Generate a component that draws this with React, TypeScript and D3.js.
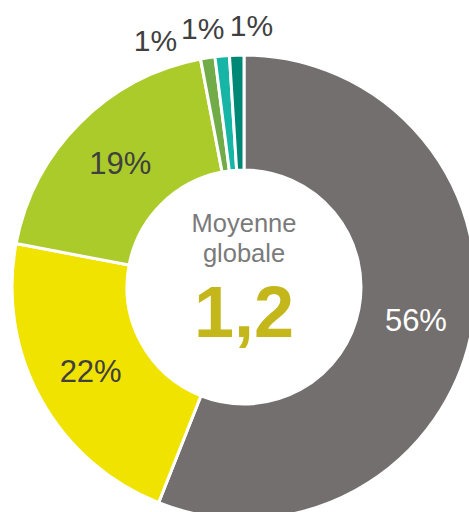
import React, { useEffect, useRef } from "react";
import * as d3 from "d3";

const categories = ["A", "B", "C", "D", "E", "F"];
const values = [56, 22, 19, 1, 1, 1];
const colors = ["#736F6E", "#F0E300", "#ABCB2B", "#72AC48", "#17B5A5", "#008877"];
const labelColors = ["#FFFFFF", "#404040", "#404040", "#404040", "#404040", "#404040"];
const centerTitle = ["Moyenne", "globale"];
const centerValue = "1,2";

const App: React.FC = () => {
  const ref = useRef<SVGSVGElement | null>(null);
  const width = 469;
  const height = 512;

  useEffect(() => {
    const svg = d3.select(ref.current);
    svg.selectAll("*").remove();

    const cx = 244;
    const cy = 287;
    const outer = 232;
    const inner = 117;
    const font = "'Liberation Sans', Arial, sans-serif";

    const g = svg.append("g").attr("transform", `translate(${cx}, ${cy})`);

    const data = categories.map((c, i) => ({ name: c, value: values[i], i }));
    type D = (typeof data)[number];
    const pie = d3.pie<D>().sort(null).value(d => d.value);
    const arcs = pie(data);

    const arc = d3.arc<d3.PieArcDatum<D>>().innerRadius(inner).outerRadius(outer);

    g.selectAll("path")
      .data(arcs)
      .enter()
      .append("path")
      .attr("d", arc)
      .attr("fill", d => colors[d.data.i])
      .attr("stroke", "#fff")
      .attr("stroke-width", 3);

    // big slices: label inside the ring
    const mid = d3.arc<d3.PieArcDatum<D>>().innerRadius(175).outerRadius(175);
    const big = arcs.filter(d => d.data.value >= 5);
    g.selectAll("text.big")
      .data(big)
      .enter()
      .append("text")
      .attr("class", "big")
      .attr("transform", d => `translate(${mid.centroid(d)})`)
      .attr("text-anchor", "middle")
      .attr("dy", "0.36em")
      .attr("font-family", font)
      .attr("font-size", 31)
      .attr("fill", d => labelColors[d.data.i])
      .text(d => `${d.data.value}%`);

    // small slices: labels spread above the ring
    const small = arcs.filter(d => d.data.value < 5);
    const last = small[small.length - 1];
    const lastMid = (last.startAngle + last.endAngle) / 2;
    const step = (10.7 * Math.PI) / 180;
    const r = 262;
    g.selectAll("text.small")
      .data(small)
      .enter()
      .append("text")
      .attr("class", "small")
      .attr("x", (d, j) => r * Math.sin(lastMid + 0.06 - (small.length - 1 - j) * step))
      .attr("y", (d, j) => -r * Math.cos(lastMid + 0.06 - (small.length - 1 - j) * step))
      .attr("text-anchor", "middle")
      .attr("dy", "0.36em")
      .attr("font-family", font)
      .attr("font-size", 30)
      .attr("fill", d => labelColors[d.data.i])
      .text(d => `${d.data.value}%`);

    // center text
    centerTitle.forEach((t, k) => {
      g.append("text")
        .attr("x", 0)
        .attr("y", -55 + k * 30)
        .attr("text-anchor", "middle")
        .attr("font-family", font)
        .attr("font-size", 25.5)
        .attr("fill", "#7A7A7A")
        .text(t);
    });
    g.append("text")
      .attr("x", 0)
      .attr("y", 50)
      .attr("text-anchor", "middle")
      .attr("font-family", font)
      .attr("font-weight", "bold")
      .attr("font-size", 72)
      .attr("fill", "#C4B71B")
      .text(centerValue);
  }, []);

  return (
    <svg
      ref={ref}
      width={width}
      height={height}
      style={{ position: "absolute", left: 0, top: 0, background: "#fff" }}
    ></svg>
  );
};

export default App;
